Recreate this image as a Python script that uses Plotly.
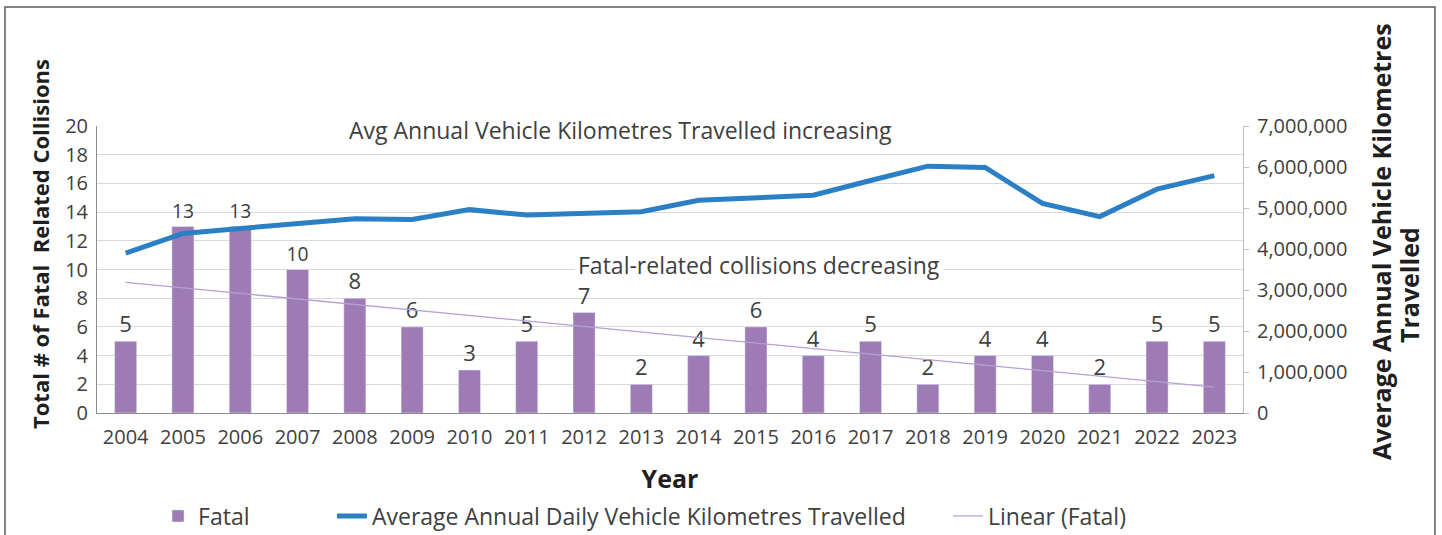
import plotly.graph_objects as go

# data
years = [str(y) for y in range(2004, 2024)]
fatal = [5, 13, 13, 10, 8, 6, 3, 5, 7, 2, 4, 6, 4, 5, 2, 4, 4, 2, 5, 5]
vkt = [3900000, 4380000, 4500000, 4610000, 4740000, 4720000, 4960000, 4830000,
       4870000, 4910000, 5190000, 5260000, 5310000, 5670000, 6020000, 5990000,
       5110000, 4790000, 5460000, 5790000]
trend_years = ["2004", "2023"]
trend_fatal = [9.1, 1.8]

FONT = "Open Sans"
TXT = "#404040"

fig = go.Figure()
fig.add_trace(go.Bar(x=years, y=fatal, name="Fatal", marker_color="#9e7bb5",
                     text=fatal, textposition="outside", cliponaxis=False,
                     textfont=dict(size=22, color=TXT, family=FONT),
                     legend="legend"))
fig.add_trace(go.Scatter(x=years, y=vkt, name="Average Annual Daily Vehicle Kilometres Travelled",
                         mode="lines", line=dict(color="#2b7fc5", width=5),
                         yaxis="y2", legend="legend2"))
fig.add_trace(go.Scatter(x=trend_years, y=trend_fatal, name="Linear (Fatal)",
                         mode="lines", line=dict(color="#b5a0d2", width=1.3),
                         legend="legend3"))

leg = dict(orientation="h", xref="container", yref="container", yanchor="middle",
           y=0.0355, xanchor="left", bgcolor="rgba(0,0,0,0)",
           font=dict(size=23, color=TXT, family=FONT))

fig.update_layout(
    width=1442, height=535,
    margin=dict(l=97, r=199, t=126, b=122, autoexpand=False),
    paper_bgcolor="white", plot_bgcolor="white",
    font=dict(family=FONT, color=TXT),
    showlegend=True,
    bargap=0.615,
    legend=dict(leg, x=0.1096),
    legend2=dict(leg, x=0.2302),
    legend3=dict(leg, x=0.6574),
    xaxis=dict(type="category", showline=True, linecolor="#8c8c8c", linewidth=1,
               ticks="", automargin=False, ticklabelstandoff=6,
               tickfont=dict(size=20, color=TXT, family=FONT),
               title=dict(text="<b>Year</b>", font=dict(size=25, color="#1f1f1f"), standoff=22)),
    yaxis=dict(range=[0, 20], dtick=2, showgrid=True, gridcolor="#d9d9d9", automargin=False,
               showline=True, linecolor="#8c8c8c", linewidth=1, zeroline=False,
               tickfont=dict(size=20, color=TXT, family=FONT), ticklabelstandoff=4),
    yaxis2=dict(range=[0, 7000000], dtick=1000000, tickformat=",", overlaying="y",
                side="right", showgrid=False, showline=True, linecolor="#bfbfbf",
                ticks="outside", ticklen=5, tickcolor="#bfbfbf", zeroline=False,
                automargin=False, tickfont=dict(size=20, color=TXT, family=FONT),
                ticklabelstandoff=4),
)

ann_font = dict(size=23, color=TXT, family=FONT)
center = dict(xref="paper", yref="paper", xanchor="center", yanchor="middle", showarrow=False)
fig.add_annotation(text="Avg Annual Vehicle Kilometres Travelled increasing",
                   x=0.457, y=0.986, bgcolor="white", borderpad=3, font=ann_font, **center)
fig.add_annotation(text="Fatal-related collisions decreasing",
                   x=0.578, y=0.516, bgcolor="white", borderpad=3, font=ann_font, **center)

title_font = dict(size=22, color="#1f1f1f", family=FONT)
fig.add_annotation(text="<b>Total # of Fatal  Related Collisions</b>", textangle=-90,
                   x=-0.0497, y=0.589, font=title_font, **center)
fig.add_annotation(text="<b>Average Annual Vehicle Kilometres</b>", textangle=-90,
                   x=1.1204, y=0.599, font=dict(title_font, size=25), **center)
fig.add_annotation(text="<b>Travelled</b>", textangle=-90,
                   x=1.1449, y=0.446, font=dict(title_font, size=25), **center)

# outer frame of the chart
fig.add_shape(type="rect", xref="paper", yref="paper", x0=-0.0803, x1=1.1675,
              y0=-0.46, y1=1.4146, line=dict(color="#595959", width=1.5))

# drop the default body margin so the figure sits at the window's top-left corner
fig.write_html("out.html", config={"displayModeBar": False},
               post_script="document.body.style.margin='0';")
